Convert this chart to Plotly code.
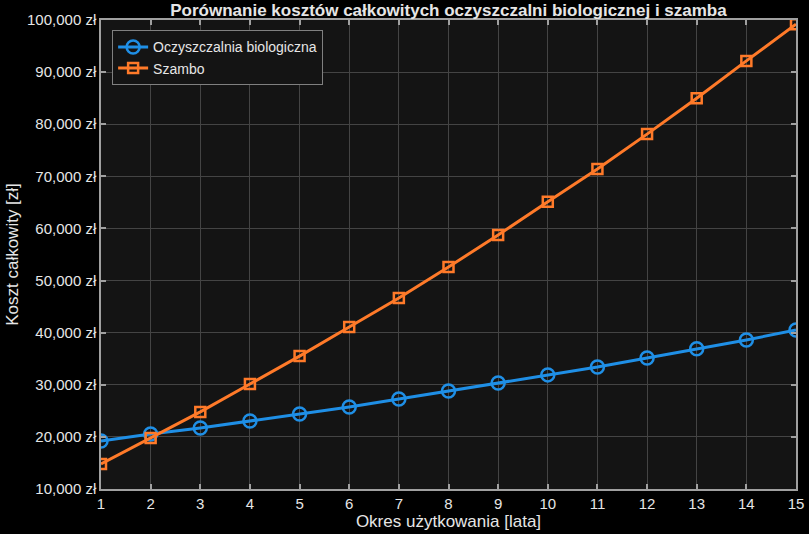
import plotly.graph_objects as go

years = list(range(1, 16))
oczyszczalnia = [19200, 20550, 21700, 23050, 24400, 25750, 27270, 28800, 30350, 31900, 33400, 35150, 36900, 38600, 40500]
szambo = [14800, 19800, 24800, 30150, 35500, 41100, 46650, 52600, 58750, 65100, 71400, 78100, 85000, 92150, 99200]

title = "Porównanie kosztów całkowitych oczyszczalni biologicznej i szamba"
x_title = "Okres użytkowania [lata]"
y_title = "Koszt całkowity [zł]"

BLUE = "#1f8fe6"
ORANGE = "#ff7a29"
FONT = "Liberation Sans, Arial, sans-serif"
TXT = "#e6e6e6"

fig = go.Figure()
fig.add_trace(go.Scatter(
    x=years, y=oczyszczalnia, mode="lines+markers", name="Oczyszczalnia biologiczna",
    line=dict(color=BLUE, width=3),
    marker=dict(symbol="circle-open", size=13, color=BLUE, line=dict(width=2.5, color=BLUE)),
))
fig.add_trace(go.Scatter(
    x=years, y=szambo, mode="lines+markers", name="Szambo",
    line=dict(color=ORANGE, width=3),
    marker=dict(symbol="square-open", size=10, color=ORANGE, line=dict(width=2.5, color=ORANGE)),
))

axis_common = dict(
    showgrid=True, gridcolor="#444444", gridwidth=1,
    showline=True, linecolor="#a0a0a0", linewidth=1.5, mirror="allticks",
    ticks="inside", ticklen=5, tickcolor="#a0a0a0", tickwidth=1.5,
    tickfont=dict(family=FONT, size=15, color=TXT),
    zeroline=False, automargin=False,
)

fig.update_layout(
    width=809, height=534,
    paper_bgcolor="#000000", plot_bgcolor="#141414",
    margin=dict(l=101, r=13, t=20, b=45),
    title=dict(text=f"<b>{title}</b>", x=0.5, xanchor="center", xref="paper",
               y=1 - 10 / 534, yref="container", yanchor="middle", automargin=False,
               font=dict(family=FONT, size=17, color=TXT)),
    xaxis=dict(axis_common, range=[1, 15], dtick=1, tick0=1,
               title=dict(text=x_title, standoff=2, font=dict(family=FONT, size=17, color=TXT))),
    yaxis=dict(axis_common, range=[10000, 100000], dtick=10000, tickformat=",d", ticksuffix=" zł",
               title=dict(text=y_title, standoff=4, font=dict(family=FONT, size=17, color=TXT))),
    legend=dict(x=0.016, y=0.978, xanchor="left", yanchor="top",
                bgcolor="#141414", bordercolor="#808080", borderwidth=1,
                font=dict(family=FONT, size=14, color=TXT),
                tracegroupgap=0, itemwidth=30),
    showlegend=True,
)

fig.write_html(
    "out.html",
    config={"displayModeBar": False},
    post_script="document.body.style.margin='0';document.body.style.background='#000000';",
)
